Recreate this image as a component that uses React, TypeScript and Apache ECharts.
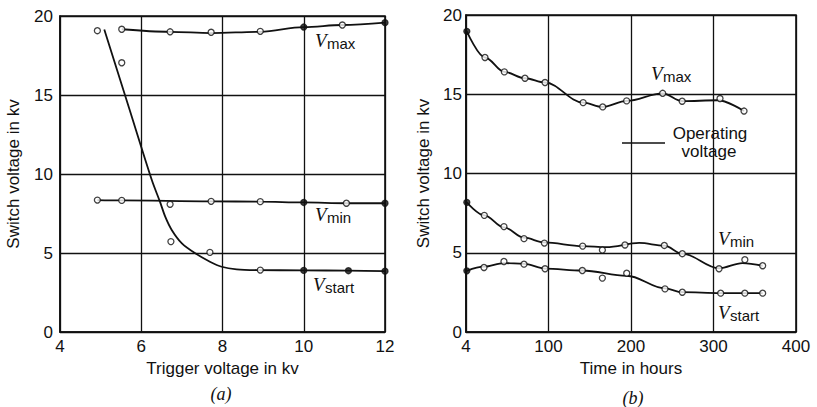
import React, { useEffect, useRef } from "react";
import * as echarts from "echarts";

// ---------- Panel (a): switch voltage vs trigger voltage ----------
const aXMin = 4;
const aXMax = 12;
const aXInterval = 2;
const yMin = 0;
const yMax = 20;
const yInterval = 5;

// fitted curves
const aVmaxCurve = [[5.52, 19.16], [6.71, 19.0], [7.72, 18.92], [8.93, 19.0], [10, 19.3], [10.95, 19.43], [12, 19.58]];
const aVminCurve = [[4.92, 8.35], [5.52, 8.33], [7.72, 8.27], [8.93, 8.25], [10, 8.2], [11.05, 8.15], [12, 8.15]];
const aVstartCurve = [[5.09, 19.15], [5.7, 14.18], [6.26, 9.62], [6.46, 8.25], [6.59, 7.3], [6.75, 6.46], [7.0, 5.61], [7.33, 4.98], [7.69, 4.45], [7.98, 4.13], [8.35, 3.97], [8.84, 3.92], [10, 3.9], [11.1, 3.88], [12, 3.85]];

// measured points (open and filled circles)
const aVmaxOpen = [[5.52, 19.16], [6.71, 19.0], [7.72, 18.97], [8.93, 19.03], [10.95, 19.43]];
const aVmaxFilled = [[10, 19.3], [12, 19.58]];
const aVminOpen = [[4.92, 8.35], [5.52, 8.33], [7.72, 8.27], [8.93, 8.25], [11.05, 8.15]];
const aVminFilled = [[10, 8.2], [12, 8.15]];
const aVstartOpen = [[4.92, 19.07], [5.52, 17.04], [6.71, 8.08], [6.73, 5.72], [7.69, 5.04], [8.93, 3.92]];
const aVstartFilled = [[10, 3.9], [11.1, 3.88], [12, 3.85]];

// ---------- Panel (b): switch voltage vs time ----------
const bXMin = 0;
const bXMax = 400;
const bXInterval = 100;
const bZeroLabel = "4";

const bVmaxCurve = [[1, 18.97], [23, 17.32], [46.5, 16.41], [71.5, 16.01], [95.8, 15.74], [142, 14.47], [165.7, 14.2], [194.7, 14.58], [238.4, 15.06], [262, 14.56], [305, 14.62], [337, 13.94]];
const bVminCurve = [[1, 8.18], [22.2, 7.36], [46, 6.6], [70.3, 5.95], [95, 5.65], [141.4, 5.42], [170, 5.35], [210, 5.62], [240.4, 5.45], [262.2, 4.94], [306.7, 4.02], [335, 4.35], [359.6, 4.18]];
const bVstartCurve = [[1, 3.86], [21.8, 4.12], [46, 4.35], [70.3, 4.3], [95.8, 4.0], [141, 3.88], [194.8, 3.55], [241.2, 2.75], [262.2, 2.51], [308.7, 2.45], [338, 2.45], [359.6, 2.45]];

const bVmaxOpen = [[23, 17.32], [46.5, 16.41], [71.5, 16.01], [95.8, 15.74], [142, 14.47], [165.7, 14.2], [194.7, 14.58], [238.4, 15.06], [262, 14.56], [307.9, 14.73], [337, 13.94]];
const bVmaxFilled = [[1, 18.97]];
const bVminOpen = [[22.2, 7.36], [46, 6.65], [70.3, 5.89], [95, 5.61], [141.4, 5.42], [165.3, 5.17], [192.7, 5.49], [240.4, 5.46], [262.2, 4.94], [306.7, 3.99], [338, 4.56], [359.6, 4.18]];
const bVminFilled = [[1, 8.18]];
const bVstartOpen = [[21.8, 4.07], [46, 4.45], [70.3, 4.28], [95.8, 3.99], [141, 3.88], [165.3, 3.4], [194.8, 3.71], [241.2, 2.72], [262.2, 2.51], [308.7, 2.45], [338, 2.45], [359.6, 2.45]];
const bVstartFilled = [[1, 3.86]];

const aXName = "Trigger voltage in kv";
const bXName = "Time in hours";
const yName = "Switch voltage in kv";

const INK = "#111";
const SANS = "Liberation Sans";
const SERIF = "Liberation Serif";

function curve(data: number[][], idx: number, monotone = true) {
  return {
    type: "line",
    data,
    xAxisIndex: idx,
    yAxisIndex: idx,
    smooth: monotone ? 0.35 : 0.3,
    smoothMonotone: monotone ? "x" : undefined,
    showSymbol: false,
    symbol: "none",
    lineStyle: { color: INK, width: 1.8 },
    z: 3,
    silent: true,
  };
}

function points(data: number[][], idx: number, filled: boolean) {
  return {
    type: "scatter",
    data,
    xAxisIndex: idx,
    yAxisIndex: idx,
    symbol: "circle",
    symbolSize: 6,
    itemStyle: { color: filled ? INK : "#fff", borderColor: INK, borderWidth: 1.3 },
    z: 5,
    silent: true,
  };
}

function xAxis(idx: number, min: number, max: number, interval: number, name: string, gap: number, fmt?: (v: number) => string) {
  return {
    type: "value",
    gridIndex: idx,
    min,
    max,
    interval,
    name,
    nameLocation: "middle",
    nameGap: gap,
    nameTextStyle: { fontFamily: SANS, fontSize: 17, color: INK },
    axisLine: { show: true, lineStyle: { color: INK, width: 1.6 } },
    axisTick: { show: false },
    axisLabel: { fontFamily: SANS, fontSize: 17, color: INK, margin: 6, formatter: fmt },
    splitLine: { show: true, lineStyle: { color: INK, width: 1.3 } },
  };
}

function yAxis(idx: number, gap: number, margin: number) {
  return {
    type: "value",
    gridIndex: idx,
    min: yMin,
    max: yMax,
    interval: yInterval,
    name: yName,
    nameLocation: "middle",
    nameGap: gap,
    nameTextStyle: { fontFamily: SANS, fontSize: 17, color: INK },
    axisLine: { show: true, lineStyle: { color: INK, width: 1.6 } },
    axisTick: { show: false },
    axisLabel: { fontFamily: SANS, fontSize: 17, color: INK, margin },
    splitLine: { show: true, lineStyle: { color: INK, width: 1.3 } },
  };
}

function vLabel(x: number, y: number, sub: string) {
  return [
    {
      type: "text",
      x,
      y,
      style: { text: "V", fontFamily: SERIF, fontStyle: "italic", fontSize: 19, fill: INK, align: "left", verticalAlign: "middle" },
    },
    {
      type: "text",
      x: x + 12,
      y: y + 3,
      style: { text: sub, fontFamily: SANS, fontSize: 15, fill: INK, align: "left", verticalAlign: "middle" },
    },
  ];
}

export default function App() {
  const ref = useRef<HTMLDivElement>(null);
  useEffect(() => {
    if (!ref.current) return;
    const chart = echarts.init(ref.current, undefined, { renderer: "svg" });
    chart.setOption({
      animation: false,
      backgroundColor: "#fff",
      grid: [
        { left: 60, top: 16, width: 325, height: 316, show: true, borderColor: INK, borderWidth: 1.6, backgroundColor: "transparent" },
        { left: 466, top: 15, width: 330, height: 317, show: true, borderColor: INK, borderWidth: 1.6, backgroundColor: "transparent" },
      ],
      xAxis: [
        xAxis(0, aXMin, aXMax, aXInterval, aXName, 22),
        xAxis(1, bXMin, bXMax, bXInterval, bXName, 25, (v: number) => (v === 0 ? bZeroLabel : String(v))),
      ],
      yAxis: [yAxis(0, 38, 7), yAxis(1, 34, 4)],
      series: [
        curve(aVmaxCurve, 0),
        curve(aVminCurve, 0),
        curve(aVstartCurve, 0, false),
        points(aVmaxOpen, 0, false),
        points(aVmaxFilled, 0, true),
        points(aVminOpen, 0, false),
        points(aVminFilled, 0, true),
        points(aVstartOpen, 0, false),
        points(aVstartFilled, 0, true),
        curve(bVmaxCurve, 1),
        curve(bVminCurve, 1),
        curve(bVstartCurve, 1),
        points(bVmaxOpen, 1, false),
        points(bVmaxFilled, 1, true),
        points(bVminOpen, 1, false),
        points(bVminFilled, 1, true),
        points(bVstartOpen, 1, false),
        points(bVstartFilled, 1, true),
      ],
      graphic: [
        ...vLabel(315, 40, "max"),
        ...vLabel(315, 214, "min"),
        ...vLabel(313, 284, "start"),
        ...vLabel(651, 73, "max"),
        ...vLabel(718, 238, "min"),
        ...vLabel(718, 312, "start"),
        {
          type: "line",
          shape: { x1: 622, y1: 143, x2: 665, y2: 143 },
          style: { stroke: INK, lineWidth: 1.4 },
        },
        {
          type: "text",
          x: 710,
          y: 133,
          style: { text: "Operating", fontFamily: SANS, fontSize: 17, fill: INK, align: "center", verticalAlign: "middle" },
        },
        {
          type: "text",
          x: 709,
          y: 151,
          style: { text: "voltage", fontFamily: SANS, fontSize: 17, fill: INK, align: "center", verticalAlign: "middle" },
        },
        {
          type: "text",
          x: 221,
          y: 394,
          style: { text: "(a)", fontFamily: SERIF, fontStyle: "italic", fontSize: 18, fill: INK, align: "center", verticalAlign: "middle" },
        },
        {
          type: "text",
          x: 633,
          y: 398,
          style: { text: "(b)", fontFamily: SERIF, fontStyle: "italic", fontSize: 18, fill: INK, align: "center", verticalAlign: "middle" },
        },
      ],
    });
    return () => chart.dispose();
  }, []);
  return <div ref={ref} style={{ position: "fixed", left: 0, top: 0, width: 817, height: 407, background: "#fff" }} />;
}
